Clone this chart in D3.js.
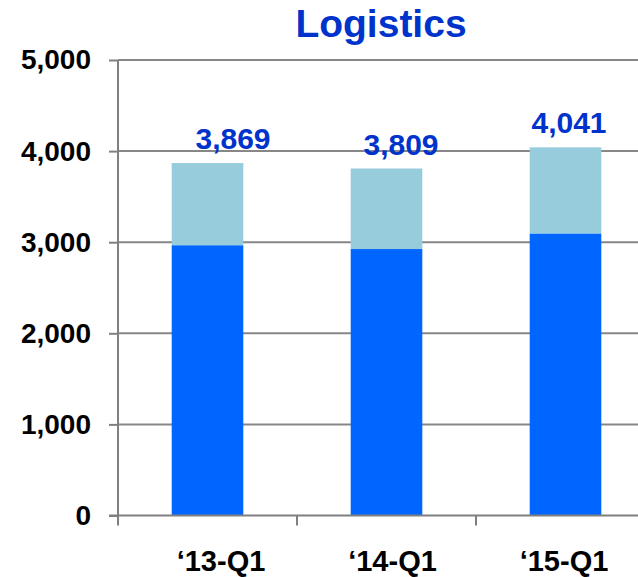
<!DOCTYPE html>
<html lang="en">
<head>
    <meta charset="UTF-8">
    <title>Logistics</title>
    <script src="https://cdn.jsdelivr.net/npm/d3@7"></script>
    <style>
        body { margin: 0; background: #fff; }
        svg { display: block; }
        text { font-family: "Liberation Sans", Arial, sans-serif; font-weight: bold; }
    </style>
</head>
<body>
    <div id="chart"></div>
    <script>
        // data
        var categories = ["\u201813-Q1", "\u201814-Q1", "\u201815-Q1"];
        var baseValues = [2967, 2925, 3096];
        var totals = [3869, 3809, 4041];
        var yTicks = [0, 1000, 2000, 3000, 4000, 5000];

        var W = 638, H = 577;
        var plotLeft = 118, plotTop = 60, plotBottom = 515.5;

        var svg = d3.select("#chart").append("svg")
            .attr("width", W)
            .attr("height", H);

        var x = d3.scaleBand()
            .domain(categories)
            .range([plotLeft, 655])
            .paddingInner(0.6)
            .paddingOuter(0.3);

        // labels sit a little off the bar centres in the original
        var xLabel = d3.scalePoint().domain(categories).range([221, 564]);
        var vLabel = d3.scalePoint().domain(categories).range([233, 569]);

        var y = d3.scaleLinear()
            .domain([0, 5000])
            .range([plotBottom, plotTop]);

        var fmt = d3.format(",");

        // gridlines
        svg.append("g")
            .selectAll("line")
            .data(yTicks.slice(1))
            .enter()
            .append("line")
            .attr("x1", plotLeft).attr("x2", W)
            .attr("y1", function (d) { return y(d); })
            .attr("y2", function (d) { return y(d); })
            .attr("stroke", "#878787")
            .attr("stroke-width", 2);

        // bars
        var rows = categories.map(function (c, i) {
            return { cat: c, base: baseValues[i], total: totals[i] };
        });

        svg.append("g").selectAll("rect")
            .data(rows)
            .enter()
            .append("rect")
            .attr("x", function (d) { return x(d.cat); })
            .attr("width", x.bandwidth())
            .attr("y", function (d) { return y(d.base); })
            .attr("height", function (d) { return y(0) - y(d.base); })
            .attr("fill", "#0066ff");

        svg.append("g").selectAll("rect")
            .data(rows)
            .enter()
            .append("rect")
            .attr("x", function (d) { return x(d.cat); })
            .attr("width", x.bandwidth())
            .attr("y", function (d) { return y(d.total); })
            .attr("height", function (d) { return y(d.base) - y(d.total); })
            .attr("fill", "#96ccdc");

        // axes
        var yAxis = svg.append("g")
            .attr("transform", "translate(" + plotLeft + ",0)")
            .call(d3.axisLeft(y).tickValues(yTicks).tickSize(9).tickPadding(18).tickFormat(fmt));
        yAxis.select(".domain").remove();
        yAxis.append("line")
            .attr("y1", plotTop).attr("y2", plotBottom + 9)
            .attr("stroke", "#808080").attr("stroke-width", 2);
        yAxis.selectAll(".tick line").attr("stroke", "#808080").attr("stroke-width", 2);
        yAxis.selectAll(".tick text")
            .attr("fill", "#000")
            .style("font-size", "28px");

        var xAxis = svg.append("g")
            .attr("transform", "translate(0," + plotBottom + ")");
        xAxis.append("line")
            .attr("x1", plotLeft - 9).attr("x2", W)
            .attr("stroke", "#808080").attr("stroke-width", 2);
        xAxis.selectAll(".xt")
            .data(categories.concat(["end"]))
            .enter()
            .append("line")
            .attr("class", "xt")
            .attr("x1", function (d, i) { return plotLeft + i * x.step(); })
            .attr("x2", function (d, i) { return plotLeft + i * x.step(); })
            .attr("y1", 0).attr("y2", 10)
            .attr("stroke", "#808080").attr("stroke-width", 2);

        svg.append("g").selectAll("text")
            .data(categories)
            .enter()
            .append("text")
            .attr("x", function (d) { return xLabel(d); })
            .attr("y", 571)
            .attr("text-anchor", "middle")
            .style("font-size", "29px")
            .attr("fill", "#000")
            .text(function (d) { return d; });

        // value labels
        svg.append("g").selectAll("text")
            .data(rows)
            .enter()
            .append("text")
            .attr("x", function (d) { return vLabel(d.cat); })
            .attr("y", function (d) { return y(d.total) - 14; })
            .attr("text-anchor", "middle")
            .style("font-size", "30px")
            .attr("fill", "#0033cc")
            .text(function (d) { return fmt(d.total); });

        // title
        svg.append("text")
            .attr("x", 381)
            .attr("y", 37)
            .attr("text-anchor", "middle")
            .style("font-size", "39px")
            .attr("fill", "#0033cc")
            .text("Logistics");
    </script>
</body>
</html>
